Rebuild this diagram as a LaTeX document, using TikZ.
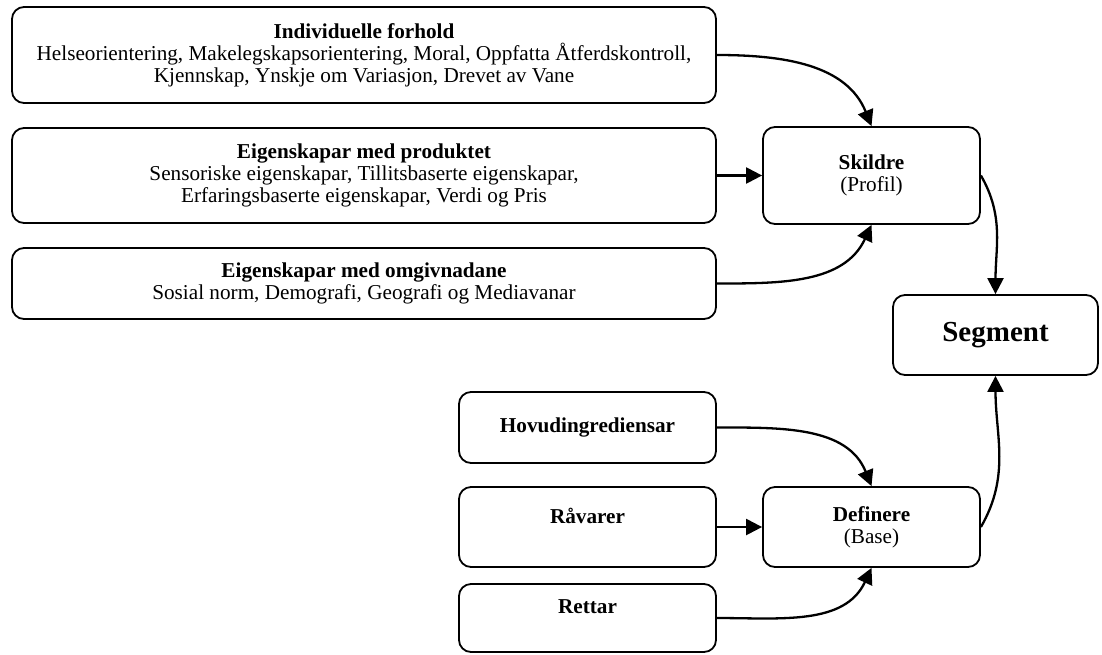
\documentclass[tikz,border=0pt]{standalone}
\usepackage{fontspec}
\setmainfont{Liberation Serif}
\usetikzlibrary{arrows.meta,positioning}

\begin{document}
\begin{tikzpicture}[
  x=1pt,y=-1pt,
  every node/.style={font=\fontsize{21.2}{22}\selectfont},
  box/.style={draw,line width=1.8pt,rounded corners=12pt,align=center,inner sep=0pt},
  wide/.style={box,minimum width=704pt},
  small/.style={box,minimum width=257pt},
  hub/.style={box,minimum width=217pt,minimum height=80pt},
  conn/.style={line width=2.3pt,-{Triangle[length=16pt,width=16pt]}},
]
\useasboundingbox (0,0) rectangle (1102,654);

% faktorar for skildring
\node[wide,minimum height=96pt] (ind) at (364,55) {\textbf{Individuelle forhold}\\
  Helseorientering, Makelegskapsorientering, Moral, Oppfatta Åtferdskontroll,\\
  Kjennskap, Ynskje om Variasjon, Drevet av Vane};
\node[wide,minimum height=95pt] (prod) at (364,175.5) {\textbf{Eigenskapar med produktet}\\
  Sensoriske eigenskapar, Tillitsbaserte eigenskapar,\\
  Erfaringsbaserte eigenskapar, Verdi og Pris};
\node[wide,minimum height=71pt] (omg) at (364,283.5) {\textbf{Eigenskapar med omgivnadane}\\
  Sosial norm, Demografi, Geografi og Mediavanar};

% faktorar for definering
\node[small,minimum height=71pt] (hovud) at (587.5,427.5) {\textbf{Hovudingrediensar}};
\node[small,minimum height=80pt] (ravare) at (587.5,527) {\textbf{Råvarer}\\~};
\node[small,minimum height=68pt] (rett) at (587.5,618) {\textbf{Rettar}\\~};

% midtre nivå
\node[hub,minimum height=97pt] (skildre) at (871.5,175.5) {\textbf{Skildre}\\(Profil)};
\node[hub] (def) at (871.5,527) {\textbf{Definere}\\(Base)};
\node[box,minimum width=205pt,minimum height=80pt,
      font=\fontsize{29}{32}\selectfont\bfseries] (seg) at (995.5,335) {Segment};

\draw[conn] (ind.east) to[out=0,in=112] (skildre.north);
\draw[conn] (prod.east) -- (skildre.west);
\draw[conn] (omg.east) to[out=0,in=-115] (skildre.south);
\draw[conn] (hovud.east) to[out=0,in=112] (def.north);
\draw[conn] (ravare.east) -- (def.west);
\draw[conn] (rett.east) to[out=0,in=-115] (def.south);
\draw[conn] (skildre.east) to[out=-60,in=90] (seg.north);
\draw[conn] (def.east) to[out=60,in=-90] (seg.south);
\end{tikzpicture}
\end{document}
